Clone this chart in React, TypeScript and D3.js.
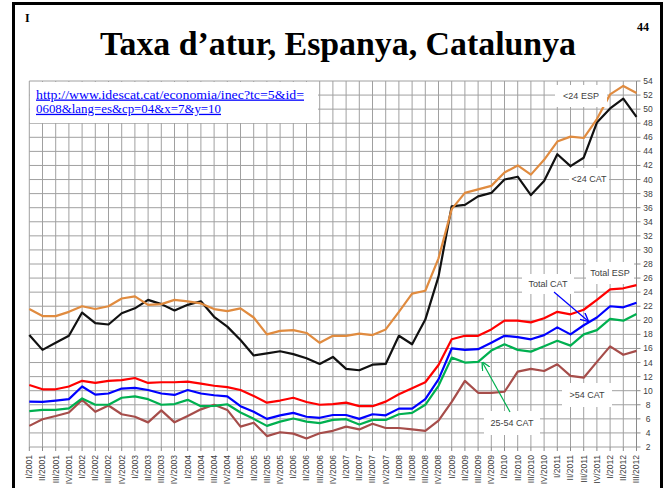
import React from "react";
import * as d3 from "d3";

const categories = [
  "I/2001","II/2001","III/2001","IV/2001",
  "I/2002","II/2002","III/2002","IV/2002",
  "I/2003","II/2003","III/2003","IV/2003",
  "I/2004","II/2004","III/2004","IV/2004",
  "I/2005","II/2005","III/2005","IV/2005",
  "I/2006","II/2006","III/2006","IV/2006",
  "I/2007","II/2007","III/2007","IV/2007",
  "I/2008","II/2008","III/2008","IV/2008",
  "I/2009","II/2009","III/2009","IV/2009",
  "I/2010","II/2010","III/2010","IV/2010",
  "I/2011","II/2011","III/2011","IV/2011",
  "I/2012","II/2012","III/2012",
];

const yTicks = d3.range(2, 55, 2);

const menor24ESP = [21.6,20.6,20.6,21.2,22.0,21.6,22.0,23.1,23.4,22.2,22.3,22.9,22.7,22.4,21.6,21.3,21.7,20.4,18.0,18.5,18.6,18.2,16.8,17.8,17.8,18.1,17.9,18.7,21.2,23.8,24.2,28.8,35.8,38.1,38.6,39.1,41.0,42.0,40.7,42.8,45.4,46.1,45.9,48.6,52.1,53.3,52.3];
const menor24CAT = [17.9,15.8,16.8,17.8,21.1,19.6,19.4,21.0,21.7,22.9,22.3,21.4,22.2,22.7,20.5,19.1,17.2,15.0,15.3,15.6,15.2,14.6,13.8,14.8,13.1,12.9,13.7,13.8,17.8,16.6,20.1,26.2,36.2,36.4,37.6,38.1,40.0,40.4,37.8,39.8,43.6,41.9,43.1,48.1,50.1,51.5,48.9];
const totalESP = [10.8,10.2,10.2,10.6,11.4,11.1,11.4,11.5,11.8,11.1,11.2,11.2,11.3,11.0,10.7,10.5,10.1,9.25,8.3,8.6,9.0,8.4,8.0,8.1,8.3,7.8,7.8,8.45,9.5,10.35,11.2,13.65,17.3,17.8,17.8,18.7,19.95,19.95,19.7,20.3,21.2,20.85,21.5,22.9,24.4,24.55,25.0];
const totalCAT = [8.45,8.4,8.6,8.8,10.6,9.45,9.6,10.3,10.4,10.1,9.6,9.4,10.1,9.6,9.35,9.2,7.8,7.0,6.0,6.5,6.85,6.3,6.15,6.55,6.55,6.0,6.65,6.5,7.45,7.45,8.8,11.6,16.0,15.8,15.9,16.8,17.8,17.6,17.3,17.9,19.0,18.0,19.3,20.4,22.0,21.85,22.5];
const cat25_54 = [7.1,7.27,7.27,7.5,8.9,8.0,8.0,9.0,9.2,8.8,8.0,8.1,8.7,7.8,7.85,8.07,6.9,6.0,5.0,5.6,6.05,5.6,5.4,5.85,5.95,5.2,5.85,5.85,6.65,6.85,8.0,10.7,14.7,14.0,14.1,15.7,16.6,15.8,15.55,16.3,17.1,16.4,18.0,18.6,20.2,19.95,20.9];
const major54CAT = [5.0,5.95,6.4,6.9,8.7,7.0,7.9,6.65,6.3,5.5,7.2,5.5,6.4,7.35,8.0,7.27,4.9,5.45,3.55,4.1,3.9,3.2,3.95,4.3,4.9,4.5,5.3,4.7,4.7,4.5,4.3,5.75,8.4,11.4,9.7,9.7,9.85,12.7,13.1,12.8,13.75,12.1,11.85,14.1,16.3,15.1,15.65];

const series = [
  { name: ">54 CAT", values: major54CAT, color: "#a64d4a" },
  { name: "25-54 CAT", values: cat25_54, color: "#00b050" },
  { name: "Total CAT", values: totalCAT, color: "#0000ff" },
  { name: "Total ESP", values: totalESP, color: "#ff0000" },
  { name: "<24 CAT", values: menor24CAT, color: "#111111" },
  { name: "<24 ESP", values: menor24ESP, color: "#e08b3f" },
];

const labels = [
  { text: "<24 ESP", cx: 581, cy: 96, w: 52, h: 22 },
  { text: "<24 CAT", cx: 589, cy: 179, w: 40, h: 22 },
  { text: "Total ESP", cx: 610, cy: 273, w: 48, h: 22 },
  { text: "Total CAT", cx: 548, cy: 284, w: 52, h: 20 },
  { text: ">54 CAT", cx: 587, cy: 395, w: 50, h: 24 },
  { text: "25-54 CAT", cx: 512, cy: 423, w: 56, h: 24 },
];

const urlLines = [
  "http://www.idescat.cat/economia/inec?tc=5&id=",
  "0608&lang=es&cp=04&x=7&y=10",
];

export default function App() {
  const W = 667, H = 488;
  const x = d3.scalePoint<string>().domain(categories).range([29.3, 636.5]);
  const y = d3.scaleLinear().domain([2, 54]).range([447, 81]);
  const line = d3.line<number>()
    .x((_, i) => x(categories[i]) as number)
    .y((d) => y(d));

  const sans = "'Liberation Sans', Arial, sans-serif";
  const serif = "'Liberation Serif', 'Times New Roman', serif";

  return (
    <svg width={W} height={H} style={{ position: "absolute", left: 0, top: 0, background: "#fff" }}>
      <defs>
        <marker id="arrBlue" viewBox="0 0 10 10" refX="9" refY="5" markerWidth="7" markerHeight="7" orient="auto">
          <path d="M0,0 L10,5 L0,10" fill="none" stroke="#0000ff" strokeWidth="1.6" />
        </marker>
        <marker id="arrGreen" viewBox="0 0 10 10" refX="9" refY="5" markerWidth="7" markerHeight="7" orient="auto">
          <path d="M0,0 L10,5 L0,10" fill="none" stroke="#00b050" strokeWidth="1.6" />
        </marker>
      </defs>
      <rect x={0} y={0} width={W} height={H} fill="#fff" />
      {/* slide frame */}
      <rect x={13.5} y={3.5} width={648} height={560} fill="none" stroke="#000" strokeWidth={3} />
      <text x={25} y={22} fontFamily={serif} fontWeight="bold" fontSize={12}>I</text>
      <text x={637} y={31} fontFamily={serif} fontWeight="bold" fontSize={12}>44</text>
      <text x={338} y={55} textAnchor="middle" fontFamily={serif} fontWeight="bold" fontSize={33}
        textLength={476} lengthAdjust="spacingAndGlyphs">Taxa d’atur, Espanya, Catalunya</text>

      {/* grid */}
      <g>
        {categories.map((c) => (
          <line key={c} x1={x(c)} x2={x(c)} y1={81} y2={447} stroke="#a0a0a0" strokeWidth={1} />
        ))}
        {yTicks.map((t) => (
          <line key={t} x1={29.3} x2={636.5} y1={y(t)} y2={y(t)} stroke="#a0a0a0" strokeWidth={1} />
        ))}
      </g>
      {/* axes */}
      <line x1={636.5} x2={636.5} y1={81} y2={447} stroke="#8a8a8a" strokeWidth={1} />
      {yTicks.map((t) => (
        <g key={"yt" + t}>
          <line x1={636.5} x2={640.5} y1={y(t)} y2={y(t)} stroke="#8a8a8a" />
          <text x={648} y={y(t)} dy="0.35em" textAnchor="middle" fontFamily={sans} fontSize={8.5} fill="#404040">{t}</text>
        </g>
      ))}
      {categories.map((c) => (
        <g key={"xt" + c}>
          <line x1={x(c)} x2={x(c)} y1={447} y2={451} stroke="#8a8a8a" />
          <text transform={`translate(${x(c)},455) rotate(-90)`} dy="0.35em" textAnchor="end"
            fontFamily={sans} fontSize={8.5} fill="#404040">{c}</text>
        </g>
      ))}

      {/* URL box */}
      <rect x={30} y={82} width={288} height={41} fill="#fff" />
      {urlLines.map((u, i) => (
        <text key={u} x={36} y={98.5 + i * 14.3} fontFamily={serif} fontSize={13} fill="#0000ff"
          textDecoration="underline" style={{ textDecoration: "underline" }}
          textLength={i === 0 ? 268 : 185} lengthAdjust="spacingAndGlyphs">{u}</text>
      ))}

      {/* series */}
      {series.map((s) => (
        <path key={s.name} d={line(s.values) as string} fill="none" stroke={s.color} strokeWidth={2.2}
          strokeLinejoin="round" />
      ))}

      {/* labels */}
      {labels.map((l) => (
        <g key={l.text}>
          <rect x={l.cx - l.w / 2} y={l.cy - l.h / 2} width={l.w} height={l.h} fill="#fff" />
          <text x={l.cx} y={l.cy} dy="0.35em" textAnchor="middle" fontFamily={sans} fontSize={9} fill="#404040">{l.text}</text>
        </g>
      ))}
      <line x1={554} y1={292} x2={588} y2={321} stroke="#0000ff" strokeWidth={1.2} markerEnd="url(#arrBlue)" />
      <line x1={510} y1={412} x2={482.5} y2={362.5} stroke="#00b050" strokeWidth={1.2} markerEnd="url(#arrGreen)" />
    </svg>
  );
}
